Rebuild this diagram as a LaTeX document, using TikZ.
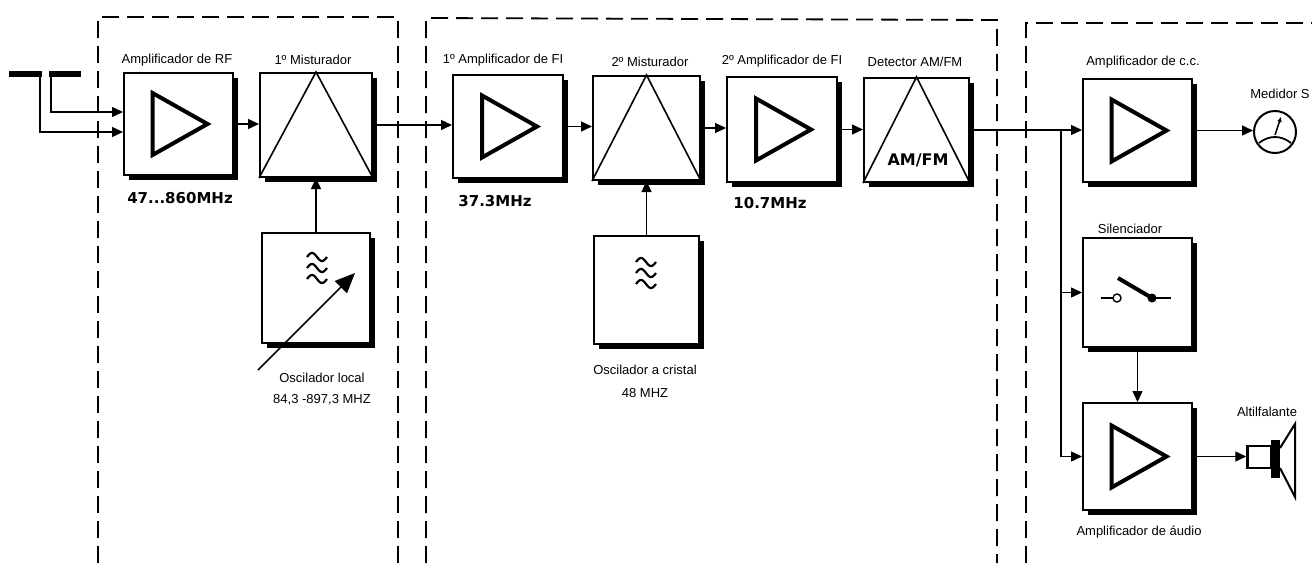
\documentclass[tikz,border=0pt]{standalone}
\usepackage{fontspec}
\setmainfont{Liberation Sans}
\newfontfamily\freqfont{DejaVu Sans}
\usetikzlibrary{arrows.meta,shadows}

\tikzset{
  blk/.style={draw, fill=white, line width=2pt, inner sep=0pt,
    minimum width=109pt, minimum height=104pt,
    drop shadow={shadow xshift=5pt, shadow yshift=-5pt, fill=black, opacity=1}},
  sig/.style={line width=1.4pt, -{Triangle[length=11pt,width=10pt]}},
  wire/.style={line width=1.4pt},
  frame/.style={line width=1.8pt, dash pattern=on 17pt off 8pt},
  lbl/.style={font=\fontsize{13}{15}\selectfont},
  freq/.style={font=\freqfont\bfseries\fontsize{15}{17}\selectfont},
  amptri/.style={line width=4pt, line join=miter},
  mixtri/.style={line width=1.6pt},
  wave/.style={line width=2.2pt},
}

% three wavy lines of an oscillator
\newcommand{\oscwaves}[2]{%
  \draw[wave] plot[domain=-10:10, samples=31] ({#1+\x}, {#2-11-4*sin(18*(\x+10))});
  \draw[wave] plot[domain=-10:10, samples=31] ({#1+\x}, {#2-4*sin(18*(\x+10))});
  \draw[wave] plot[domain=-10:10, samples=31] ({#1+\x}, {#2+11-4*sin(18*(\x+10))});
}
% amplifier triangle in a block
\newcommand{\amptriangle}[1]{%
  \draw[amptri] ([shift={(-26,-31)}]#1.center) -- ([shift={(29,0)}]#1.center)
    -- ([shift={(-26,31)}]#1.center) -- cycle;
}

\begin{document}
\begin{tikzpicture}[x=1pt,y=-1pt]
\useasboundingbox (0,0) rectangle (1312,563);

% dashed frames
\draw[frame] (98,563) -- (98,17) -- (398,17) -- (398,563);
\draw[frame] (426,563) -- (426,18) -- (997,20) -- (997,563);
\draw[frame] (1026,563) -- (1026,23) -- (1312,23);

% antenna
\fill (9,71) rectangle (42,77);
\fill (49,71) rectangle (81,77);
\coordinate (antA) at (40,76);
\coordinate (antB) at (51,76);

% blocks
\node[blk, minimum height=102pt] (amprf) at (178.5,124) {};
\node[blk, minimum width=112pt] (mix1) at (316,125) {};
\node[blk, minimum width=108pt, minimum height=110pt] (osc1) at (316,288) {};
\node[blk, minimum width=110pt, minimum height=103pt] (ampfi1) at (508,126.5) {};
\node[blk, minimum width=107pt] (mix2) at (646.5,128) {};
\node[blk, minimum width=105pt, minimum height=108pt] (osc2) at (646.5,290) {};
\node[blk, minimum width=110pt, minimum height=105pt] (ampfi2) at (782,129.5) {};
\node[blk, minimum width=105pt] (det) at (916.5,130) {};
\node[blk, minimum height=103pt] (ampcc) at (1137.5,130.5) {};
\node[blk, minimum height=109pt] (sil) at (1137.5,292.5) {};
\node[blk, minimum height=107pt] (ampaud) at (1137.5,456.5) {};

% symbols inside the blocks
\amptriangle{amprf}
\amptriangle{ampfi1}
\amptriangle{ampfi2}
\amptriangle{ampcc}
\amptriangle{ampaud}
\draw[mixtri] (mix1.south west) -- (mix1.north) -- (mix1.south east);
\draw[mixtri] (mix2.south west) -- (mix2.north) -- (mix2.south east);
\draw[mixtri] (det.south west) -- (det.north) -- (det.south east);
\node[freq, font=\freqfont\bfseries\fontsize{16}{18}\selectfont] (amfm) at (918,160) {AM/FM};
\oscwaves{317}{268}
\oscwaves{646}{273}
\coordinate (tuneA) at (258,370);
\coordinate (tuneB) at (355,273);
\draw[line width=1.6pt, -{Triangle[length=20pt,width=17pt]}] (tuneA) -- (tuneB);

% switch
\draw[wire] ([shift={(-37,5.5)}]sil.center) -- ([shift={(-24.5,5.5)}]sil.center);
\draw[wire, fill=white] ([shift={(-20.5,5.5)}]sil.center) circle (4pt);
\draw[line width=4pt] ([shift={(-19.5,-14.5)}]sil.center) -- ([shift={(14.5,5.5)}]sil.center);
\fill ([shift={(14.5,5.5)}]sil.center) circle (4.5pt);
\draw[wire] ([shift={(14.5,5.5)}]sil.center) -- ([shift={(33.5,5.5)}]sil.center);

% S meter
\node[draw, circle, line width=2pt, minimum size=42pt, inner sep=0pt] (meter) at (1275,132) {};
\draw[line width=1.8pt] ([shift={(-16,11)}]meter.center) .. controls ([shift={(-6,3)}]meter.center)
  and ([shift={(6,3)}]meter.center) .. ([shift={(16,11)}]meter.center);
\draw[line width=1.5pt, -{Triangle[length=5pt,width=4pt]}] ([shift={(0,3)}]meter.center)
  -- ([shift={(6,-15)}]meter.center);

% loudspeaker
\node[draw, line width=2.5pt, minimum width=24pt, minimum height=22pt, inner sep=0pt] (spk) at (1259.5,457) {};
\fill (1271,440) rectangle (1280,478);
\draw[line width=2pt, line join=miter] (1280,448) -- (1295,424) -- (1295,497) -- (1280,468);

% connections
\draw[sig] (antB) |- ([yshift=12pt]amprf.west);
\draw[sig] (antA) |- ([yshift=-8pt]amprf.west);
\draw[sig] (amprf.east) -- (amprf.east -| mix1.west);
\draw[sig] (mix1.east) -- (mix1.east -| ampfi1.west);
\draw[sig] (ampfi1.east) -- (ampfi1.east -| mix2.west);
\draw[sig] (mix2.east) -- (mix2.east -| ampfi2.west);
\draw[sig] (ampfi2.east) -- (ampfi2.east -| det.west);
\draw[sig] (osc1.north) -- (mix1.south);
\draw[sig] (osc2.north) -- (mix2.south);
\draw[sig] (det.east) -- (det.east -| ampcc.west);
\coordinate (tap) at (1061,130);
\draw[sig] (tap) |- (sil.west);
\draw[sig] (tap) |- (ampaud.west);
\draw[sig] (sil.south) -- (ampaud.north);
\draw[sig] (ampcc.east) -- (ampcc.east -| meter.west);
\draw[sig] (ampaud.east) -- (ampaud.east -| spk.west);

% labels
\node[lbl] (lblrf) at (177,60) {Amplificador de RF};
\node[lbl] (lblmix1) at (313,60) {1º Misturador};
\node[freq] (frf) at (180,198) {47...860MHz};
\node[lbl] (lblosc1) at (322,378) {Oscilador local};
\node[lbl] (fosc1) at (322,400) {84,3 -897,3 MHZ};
\node[lbl] (lblfi1) at (503,60) {1º Amplificador de FI};
\node[freq] (ffi1) at (495,201) {37.3MHz};
\node[lbl] (lblmix2) at (650,62) {2º Misturador};
\node[lbl] (lblosc2) at (645,370) {Oscilador a cristal};
\node[lbl] (fosc2) at (645,393) {48 MHZ};
\node[lbl] (lblfi2) at (782,61) {2º Amplificador de FI};
\node[freq] (ffi2) at (770,203) {10.7MHz};
\node[lbl] (lbldet) at (915,62) {Detector AM/FM};
\node[lbl] (lblcc) at (1143,62) {Amplificador de c.c.};
\node[lbl] (lblmeter) at (1280,94) {Medidor S};
\node[lbl] (lblsil) at (1130,229) {Silenciador};
\node[lbl] (lblaud) at (1139,532) {Amplificador de áudio};
\node[lbl] (lblspk) at (1267,412) {Altilfalante};
\end{tikzpicture}
\end{document}
